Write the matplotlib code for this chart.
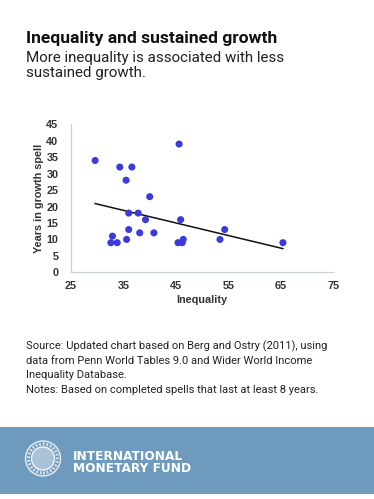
import matplotlib
matplotlib.use("Agg")
import matplotlib.pyplot as plt
from matplotlib.patches import Rectangle, Ellipse

# ---- data ----
inequality = [29.6, 34.3, 36.6, 35.5, 45.6, 40.0, 36.0, 37.8, 39.2, 45.9,
              36.0, 38.1, 40.8, 35.6, 32.9, 32.6, 33.8, 45.4, 46.2, 46.4,
              53.4, 54.3, 65.4]
years = [34, 32, 32, 28, 39, 23, 18, 18, 16, 16,
         13, 12, 12, 10, 11, 9, 9, 9, 9, 10,
         10, 13, 9]
trend_x = [29.6, 65.4]
trend_y = [20.9, 7.2]
x_ticks = [25, 35, 45, 55, 65, 75]
y_ticks = [0, 5, 10, 15, 20, 25, 30, 35, 40, 45]

title = "Inequality and sustained growth"
subtitle = "More inequality is associated with less\nsustained growth."
source = ("Source: Updated chart based on Berg and Ostry (2011), using\n"
          "data from Penn World Tables 9.0 and Wider World Income\n"
          "Inequality Database.\n"
          "Notes: Based on completed spells that last at least 8 years.")

W, H = 374, 499
fig = plt.figure(figsize=(W / 100, H / 100), dpi=100)
fig.patch.set_facecolor("white")

def fx(px):
    return px / W

def fy(py):
    return 1 - py / H

# Titles
fig.text(fx(26), fy(43), title, fontsize=12.6, fontweight="bold",
         family=["Roboto", "DejaVu Sans"], color="#111111", va="baseline")
fig.text(fx(26), fy(77), subtitle, fontsize=10.9,
         family=["Roboto", "DejaVu Sans"], color="#222222", va="baseline",
         linespacing=1.12)

# Axes
ax = fig.add_axes([fx(71), fy(272.3), fx(333.3) - fx(71), (272.3 - 124.3) / H])
ax.scatter(inequality, years, s=26, color="#3b3bdc", edgecolors="none", zorder=3)
ax.plot(trend_x, trend_y, color="#111111", lw=1.1, zorder=2)
ax.set_xlim(25, 75)
ax.set_ylim(0, 45)
ax.set_xticks(x_ticks)
ax.set_yticks(y_ticks)
for lab in ax.get_xticklabels() + ax.get_yticklabels():
    lab.set_fontweight("bold")
    lab.set_family(["Liberation Sans", "DejaVu Sans"])
    lab.set_fontsize(7.8)
    lab.set_color("#333333")
ax.tick_params(length=0, pad=6)
ax.tick_params(axis="y", pad=9)
for s in ["top", "right"]:
    ax.spines[s].set_visible(False)
for s in ["left", "bottom"]:
    ax.spines[s].set_color("#c9d2da")
    ax.spines[s].set_linewidth(0.9)
ax.set_xlabel("Inequality", fontsize=7.8, fontweight="bold",
              family=["Liberation Sans", "DejaVu Sans"], color="#333333", labelpad=3)
ax.set_ylabel("Years in growth spell", fontsize=7.8, fontweight="bold",
              family=["Liberation Sans", "DejaVu Sans"], color="#333333", labelpad=2)

# Source text
fig.text(fx(26), fy(340), source, fontsize=8.0,
         family=["Roboto", "DejaVu Sans"], color="#222222", va="top",
         linespacing=1.55)

# Footer band
fig.patches.append(Rectangle((0, fy(494)), 1, (494 - 426.7) / H,
                             transform=fig.transFigure, facecolor="#6e9bbd",
                             edgecolor="none", zorder=0))

# Seal
cx, cy, r = 43, 458.5, 17.5
fig.patches.append(Ellipse((fx(cx), fy(cy)), 2 * r / W, 2 * r / H,
                           transform=fig.transFigure, facecolor="none",
                           edgecolor="#e8eef4", lw=1.0, zorder=2))
fig.patches.append(Ellipse((fx(cx), fy(cy)), 2 * (r - 6) / W, 2 * (r - 6) / H,
                           transform=fig.transFigure, facecolor="#a9c2d6",
                           edgecolor="#f2f6fa", lw=1.0, zorder=2))
fig.patches.append(Ellipse((fx(cx), fy(cy)), 2 * (r - 3) / W, 2 * (r - 3) / H,
                           transform=fig.transFigure, facecolor="none",
                           edgecolor="#d8e3ec", lw=2.2, ls=(0, (0.6, 0.6)), zorder=2))

fig.text(fx(73), fy(459.5), "INTERNATIONAL", fontsize=8.7, fontweight="bold",
         family=["DejaVu Sans"], color="white", va="baseline")
fig.text(fx(73), fy(471.5), "MONETARY FUND", fontsize=8.7, fontweight="bold",
         family=["DejaVu Sans"], color="white", va="baseline")

fig.savefig("out.png", dpi=100, facecolor="white")
